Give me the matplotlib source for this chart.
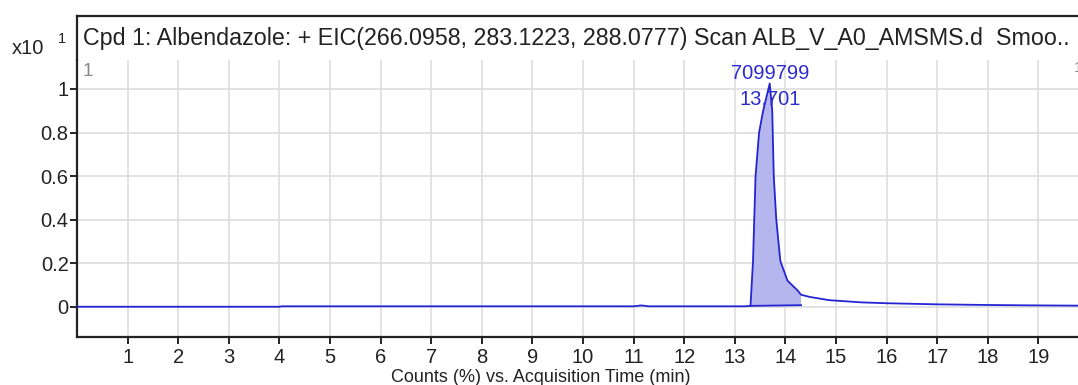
import matplotlib
matplotlib.use("Agg")
import matplotlib.pyplot as plt
import numpy as np

plt.rcParams['font.family'] = ['Liberation Sans', 'DejaVu Sans']

# ---- data ----
time_min = [0.0, 4.0, 4.05, 11.0, 11.15, 11.3, 13.2, 13.31, 13.36, 13.41, 13.48,
            13.56, 13.69, 13.74, 13.77, 13.82, 13.90, 14.04, 14.24, 14.31, 14.48,
            14.87, 15.5, 16.0, 17.0, 18.0, 19.0, 19.8]
counts = [0.0, 0.0, 0.002, 0.002, 0.006, 0.002, 0.002, 0.004, 0.21, 0.60, 0.80,
          0.90, 1.025, 0.90, 0.60, 0.40, 0.21, 0.12, 0.075, 0.055, 0.045,
          0.03, 0.02, 0.016, 0.011, 0.008, 0.006, 0.005]
peak_start = 13.31
peak_end = 14.31
peak_height_label = "7099799"
peak_rt_label = "13.701"
x_ticks = list(range(1, 20))
y_ticks = [0, 0.2, 0.4, 0.6, 0.8, 1]
y_tick_labels = ["0", "0.2", "0.4", "0.6", "0.8", "1"]
title = "Cpd 1: Albendazole: + EIC(266.0958, 283.1223, 288.0777) Scan ALB_V_A0_AMSMS.d  Smoo.."
x_label = "Counts (%) vs. Acquisition Time (min)"

W, H = 1078, 385
fig = plt.figure(figsize=(W / 100, H / 100), dpi=100)

def fx(px):
    return px / W

def fy(py):
    return 1 - py / H

line_col = '#2424d4'
fill_col = '#b6b6ee'
spine_col = '#222222'
grid_col = '#dddddd'

ax = fig.add_axes([fx(77), fy(337), 1 - fx(77), fy(60) - fy(337)])
ax.set_xlim(0, (W - 77) / 50.6)
ax.set_ylim(-0.139, 1.133)

for s in ['top', 'right']:
    ax.spines[s].set_visible(False)
for s in ['left', 'bottom']:
    ax.spines[s].set_color(spine_col)
    ax.spines[s].set_linewidth(1.6)

ax.set_xticks(x_ticks)
ax.set_yticks(y_ticks)
ax.set_yticklabels(y_tick_labels)
ax.tick_params(axis='both', direction='out', length=5, width=1.4, color=spine_col,
               labelcolor='#222222')
ax.tick_params(axis='x', labelsize=14.5, pad=3)
ax.tick_params(axis='y', labelsize=14.5, pad=1)
ax.grid(True, color=grid_col, linewidth=1.2)
ax.set_axisbelow(True)

t = np.array(time_min)
c = np.array(counts)
mask = (t >= peak_start) & (t <= peak_end)
px = t[mask]
py = c[mask]
ax.fill(np.r_[px, px[::-1][:1], px[:1]], np.r_[py, [0.007], py[:1]],
        facecolor=fill_col, edgecolor='none', zorder=2)
ax.plot([px[0], px[-1]], [py[0], 0.007], color=line_col, lw=1.3, zorder=3)
ax.plot(t, c, color=line_col, lw=1.3, zorder=3)

imax = int(np.argmax(c))
ax.annotate(peak_height_label, xy=(t[imax], c[imax]), xytext=(0, 7),
            textcoords='offset points', ha='center', va='center',
            color='#2a2ad0', fontsize=14.5, zorder=4)
ax.annotate(peak_rt_label, xy=(t[imax], c[imax]), xytext=(0, -11.5),
            textcoords='offset points', ha='center', va='center',
            color='#2a2ad0', fontsize=14.5, zorder=4)

ax.set_xlabel(x_label, fontsize=13, color='#222222', labelpad=1)
ax.xaxis.set_label_coords((541 - 77) / (W - 77), -0.115, transform=ax.transAxes)
ax.xaxis.label.set_va('top')

# title band
tax = fig.add_axes([fx(77), fy(60), 1 - fx(77), fy(16) - fy(60)])
tax.set_xticks([])
tax.set_yticks([])
for s in ['bottom', 'right']:
    tax.spines[s].set_visible(False)
for s in ['left', 'top']:
    tax.spines[s].set_color(spine_col)
    tax.spines[s].set_linewidth(1.6)
tax.patch.set_alpha(0)
ttl = fig.text(fx(83), fy(38), title, ha='left', va='center', color='#222222', fontsize=14)
# fit title width to reference
fig.canvas.draw()
r = fig.canvas.get_renderer()
w = ttl.get_window_extent(r).width
ttl.set_fontsize(14 * 990 / w)

fig.text(fx(12), fy(48.5), "x10", ha='left', va='center', fontsize=14.5, color='#222222')
fig.text(fx(58), fy(39), "1", ha='left', va='center', fontsize=10.5, color='#222222')
fig.text(fx(83), fy(72), "1", ha='left', va='center', fontsize=13.5, color='#888888')
fig.text(fx(1074), fy(68), "1", ha='left', va='center', fontsize=11, color='#888888')

fig.savefig("out.png", dpi=100)
